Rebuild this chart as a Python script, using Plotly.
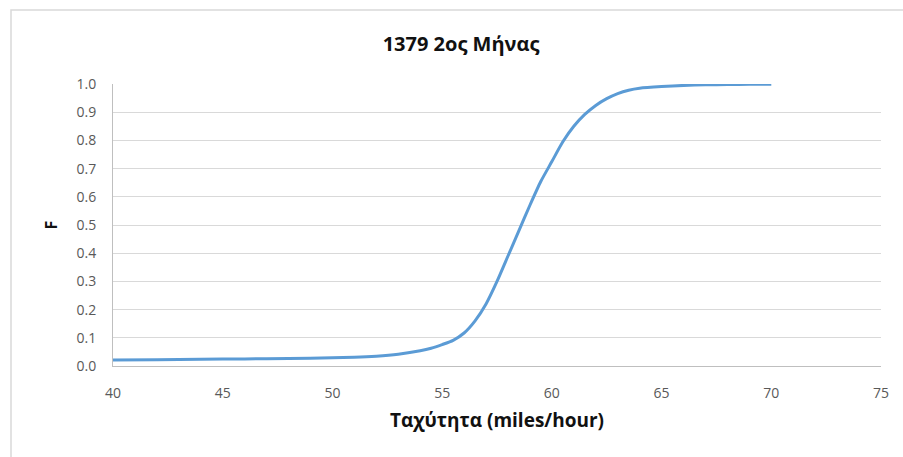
import plotly.graph_objects as go

# Cumulative distribution of speed
speed = [40, 42, 44, 46, 48, 50, 51, 52, 53, 54, 54.5, 55, 55.5, 56, 56.5,
         57, 57.5, 58, 58.5, 59, 59.5, 60, 60.5, 61, 61.5, 62, 62.5, 63,
         63.5, 64, 65, 66, 67, 68, 69, 70]
F = [0.021, 0.022, 0.024, 0.025, 0.027, 0.029, 0.031, 0.035, 0.042, 0.054,
     0.063, 0.076, 0.091, 0.117, 0.160, 0.220, 0.300, 0.390, 0.480, 0.570,
     0.655, 0.725, 0.795, 0.850, 0.892, 0.924, 0.948, 0.966, 0.978, 0.985,
     0.991, 0.995, 0.997, 0.998, 0.999, 0.999]

x_ticks = [40, 45, 50, 55, 60, 65, 70, 75]
y_ticks = [0.0, 0.1, 0.2, 0.3, 0.4, 0.5, 0.6, 0.7, 0.8, 0.9, 1.0]

title_text = "1379 2ος Μήνας"
x_title = "Ταχύτητα (miles/hour)"
y_title = "F"

FONT = "Open Sans, Liberation Sans, sans-serif"

fig = go.Figure()
fig.add_trace(go.Scatter(
    x=speed, y=F, mode="lines",
    line=dict(color="#5b9bd5", width=3, shape="spline", smoothing=0.6),
    showlegend=False, hoverinfo="x+y",
))

grid = "#d9d9d9"
tick_font = dict(family=FONT, size=14, color="#595959")

fig.update_layout(
    width=903, height=457,
    margin=dict(l=113, r=22, t=84, b=91),
    paper_bgcolor="white", plot_bgcolor="white",
    title=dict(text=f"<b>{title_text}</b>", x=461 / 903, xanchor="center",
               y=1 - 44 / 457, yanchor="middle",
               font=dict(family=FONT, size=20, color="#111111")),
    xaxis=dict(
        range=[40, 75], tickvals=x_ticks, ticktext=[str(v) for v in x_ticks],
        showgrid=False, zeroline=False, showline=True, linecolor="#bfbfbf", linewidth=1,
        ticks="", tickfont=tick_font, ticklabelstandoff=14,
        title=dict(text=f"<b>{x_title}</b>", standoff=12,
                   font=dict(family=FONT, size=19, color="#111111")),
        fixedrange=True,
    ),
    yaxis=dict(
        range=[0, 1.0], tickvals=y_ticks, ticktext=[f"{v:.1f}" for v in y_ticks],
        showgrid=True, gridcolor=grid, gridwidth=1, zeroline=False,
        showline=True, linecolor="#bfbfbf", linewidth=1,
        ticks="", tickfont=tick_font, ticklabelstandoff=13,
        title=dict(text=f"<b>{y_title}</b>", standoff=14,
                   font=dict(family=FONT, size=16, color="#111111")),
        fixedrange=True,
    ),
)

# Chart-area frame
fig.add_shape(type="rect", xref="paper", yref="paper",
              x0=(11 - 113) / 768, x1=(910 - 113) / 768,
              y0=(366 - 470) / 282, y1=(366 - 10) / 282,
              line=dict(color="#d9d9d9", width=1.5), fillcolor="rgba(0,0,0,0)", layer="below")

fig.write_html("out.html")
